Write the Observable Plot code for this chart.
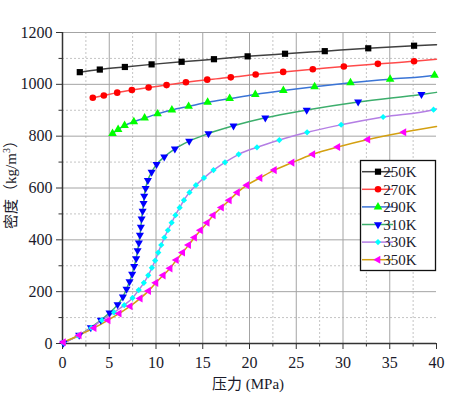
<!DOCTYPE html>
<html><head><meta charset="utf-8">
<script src="https://cdn.jsdelivr.net/npm/d3@7"></script>
<script src="https://cdn.jsdelivr.net/npm/@observablehq/plot@0.6"></script>
<style>body{margin:0;background:#fff}#chart{width:459px;height:399px}</style>
</head><body><div id="chart"></div>
<script>
// ---- data ----
const temps = ["250K", "270K", "290K", "310K", "330K", "350K"];

const p250 = [1.85, 3.99, 6.67, 9.53, 12.74, 16.2, 19.8, 23.8, 28.05, 32.7, 37.6];
const d250 = [1047, 1057, 1067, 1077, 1087, 1097, 1108, 1118, 1128, 1139, 1149];

const p270 = [3.24, 4.42, 5.85, 7.42, 9.21, 11.13, 13.2, 15.48, 18.0, 20.66, 23.6, 26.77, 30.09, 33.73, 37.6];
const d270 = [948, 957, 968, 978, 988, 997, 1008, 1018, 1027, 1038, 1048, 1058, 1069, 1079, 1089];

const p290 = [5.35, 5.95, 6.64, 7.63, 8.78, 10.17, 11.7, 13.49, 15.52, 17.88, 20.62, 23.62, 26.96, 30.8, 35.04, 39.79];
const d290 = [810, 826, 841, 856, 870, 886, 901, 915, 931, 945, 961, 976, 991, 1006, 1020, 1035];

const p310 = [0.1, 1.78, 3.03, 4.1, 5.03, 5.89, 6.46, 6.85, 7.17, 7.45, 7.67, 7.88, 8.03, 8.17, 8.28, 8.38, 8.46, 8.57, 8.67, 8.74, 8.89, 9.13, 9.53, 10.06, 10.88, 12.02, 13.55, 15.61, 18.29, 21.69, 26.12, 31.62, 38.39];
const d310 = [2, 32, 61, 90, 118, 150, 180, 210, 239, 268, 298, 328, 359, 388, 418, 449, 481, 511, 541, 569, 599, 630, 661, 691, 720, 751, 781, 810, 840, 871, 901, 932, 961];

const p330 = [0.1, 1.69, 3.08, 4.21, 5.52, 6.6, 7.49, 8.15, 8.7, 9.17, 9.56, 9.91, 10.24, 10.56, 10.9, 11.27, 11.67, 12.08, 12.53, 12.99, 13.58, 14.27, 15.13, 16.15, 17.38, 18.84, 20.8, 23.19, 26.16, 29.8, 34.29, 39.68];
const d330 = [3, 30, 60, 90, 120, 148, 176, 206, 234, 263, 292, 320, 351, 380, 409, 437, 466, 495, 524, 553, 583, 611, 639, 669, 699, 730, 757, 785, 815, 844, 874, 902];

const p350 = [0.1, 1.78, 3.38, 4.88, 6.06, 7.24, 8.31, 9.21, 9.99, 10.77, 11.51, 12.18, 12.85, 13.49, 14.12, 14.76, 15.47, 16.12, 17.0, 17.84, 18.71, 19.73, 21.12, 22.66, 24.55, 26.77, 29.44, 32.66, 36.51];
const d350 = [5, 32, 60, 90, 116, 144, 174, 203, 234, 263, 290, 322, 351, 380, 409, 437, 466, 495, 525, 553, 583, 611, 639, 669, 698, 730, 758, 787, 815];

// where each fitted curve ends (right edge of the plot)
const endP = 40;
const endRho = [1153, 1097, 1037, 969, 905, 837];

const lineColors = ["#404040", "#ff4a4a", "#3a74d6", "#3cae6c", "#b47ee4", "#d4a010"];
const markerColors = ["#000000", "#ff0000", "#00ff00", "#0000ff", "#00ffff", "#ff00ff"];

const xMajor = [0, 5, 10, 15, 20, 25, 30, 35, 40];
const xMinor = [2.5, 7.5, 12.5, 17.5, 22.5, 27.5, 32.5, 37.5];
const yMajor = [0, 200, 400, 600, 800, 1000, 1200];
const yMinor = [100, 300, 500, 700, 900, 1100];

const xLabelCJK = "压力";
const xLabelLatin = " (MPa)";
const yLabelCJK = "密度（";
const yLabelUnit = "kg/m";
const yLabelSup = "3";
const yLabelEnd = "）";

// ---- build ----
const pressures = [p250, p270, p290, p310, p330, p350];
const densities = [d250, d270, d290, d310, d330, d350];
const dotData = pressures.map((ps, i) => ps.map((p, j) => ({T: temps[i], p, rho: densities[i][j]})));
const lineData = dotData.map((pts, i) => pts.concat(pts[pts.length - 1].p < endP ? [{T: temps[i], p: endP, rho: endRho[i]}] : []));

const s3 = Math.sqrt(3);
const triDown = {draw(ctx, size) { const y = -Math.sqrt(size / (s3 * 3)); ctx.moveTo(0, -y * 2); ctx.lineTo(-s3 * y, y); ctx.lineTo(s3 * y, y); ctx.closePath(); }};
const triLeft = {draw(ctx, size) { const y = -Math.sqrt(size / (s3 * 3)); ctx.moveTo(y * 2, 0); ctx.lineTo(-y, -s3 * y); ctx.lineTo(-y, s3 * y); ctx.closePath(); }};
const symbols = ["square", "circle", "triangle", triDown, "diamond2", triLeft];
const d3Symbols = [d3.symbolSquare, d3.symbolCircle, d3.symbolTriangle, triDown, d3.symbolDiamond2, triLeft];
const radii = [3.5, 3.3, 3.2, 3.0, 2.8, 3.0];

const serif = '"Liberation Serif", "Times New Roman", "DejaVu Serif", serif';
const cjk = '"Noto Sans CJK SC", sans-serif';
const fmt = d => String(d);

const marks = [
  Plot.ruleX(xMinor, {stroke: "#c4c4c4", strokeDasharray: "2,2"}),
  Plot.ruleY(yMinor, {stroke: "#c4c4c4", strokeDasharray: "2,2"}),
  Plot.ruleX(xMajor.filter(v => v > 0 && v < 40), {stroke: "#a4a4a4"}),
  Plot.ruleY(yMajor.filter(v => v > 0), {stroke: "#a4a4a4"}),
  Plot.axisX(xMajor, {tickSize: 6, tickPadding: 7, label: null, stroke: "#333", tickFormat: fmt, fontFamily: serif}),
  Plot.axisX(xMinor, {tickSize: 3.5, tickFormat: () => "", label: null, stroke: "#333"}),
  Plot.axisY(yMajor, {tickSize: 6, tickPadding: 4, label: null, stroke: "#333", tickFormat: fmt, fontFamily: serif}),
  Plot.axisY(yMinor, {tickSize: 3.5, tickFormat: () => "", label: null, stroke: "#333"}),
  Plot.ruleX([0], {stroke: "#333", strokeWidth: 1.5}),
  Plot.ruleY([0], {stroke: "#333", strokeWidth: 1.5}),
  ...lineData.map((d, i) => Plot.line(d, {x: "p", y: "rho", stroke: lineColors[i], strokeWidth: 1.5, curve: "monotone-x"})),
  ...dotData.map((d, i) => Plot.dot(d, {x: "p", y: "rho", symbol: symbols[i], fill: markerColors[i], r: radii[i], stroke: "none"}))
];

const chart = Plot.plot({
  width: 459, height: 399,
  marginLeft: 62, marginRight: 23, marginTop: 32, marginBottom: 56,
  style: {fontFamily: serif, fontSize: "16px", color: "#1a1a2a", background: "#fff", overflow: "visible"},
  x: {domain: [0, 40]},
  y: {domain: [0, 1200]},
  marks
});
document.getElementById("chart").appendChild(chart);

const svg = d3.select(chart);
const xl = svg.append("text").attr("x", 248).attr("y", 389).attr("text-anchor", "middle")
  .attr("font-size", 15).attr("fill", "#1a1a2a");
xl.append("tspan").attr("font-family", cjk).text(xLabelCJK);
xl.append("tspan").attr("font-family", serif).text(xLabelLatin);

const yl = svg.append("text").attr("transform", "translate(16,181) rotate(-90)").attr("text-anchor", "middle")
  .attr("font-size", 15).attr("fill", "#1a1a2a");
yl.append("tspan").attr("font-family", cjk).text(yLabelCJK);
yl.append("tspan").attr("font-family", serif).text(yLabelUnit);
yl.append("tspan").attr("font-family", serif).attr("font-size", 10).attr("dy", -6).text(yLabelSup);
yl.append("tspan").attr("font-family", cjk).attr("dy", 6).text(yLabelEnd);

// legend
const lg = svg.append("g");
lg.append("rect").attr("x", 360.5).attr("y", 160.5).attr("width", 75).attr("height", 110)
  .attr("fill", "#fff").attr("stroke", "#111").attr("stroke-width", 1.3);
temps.forEach((t, i) => {
  const cy = 171.7 + i * 17.6;
  lg.append("line").attr("x1", 362).attr("x2", 393).attr("y1", cy).attr("y2", cy)
    .attr("stroke", lineColors[i]).attr("stroke-width", 1.5);
  lg.append("path").attr("transform", `translate(378,${cy})`)
    .attr("d", d3.symbol().type(d3Symbols[i]).size(Math.PI * radii[i] * radii[i])())
    .attr("fill", markerColors[i]);
  lg.append("text").attr("x", 400).attr("y", cy).attr("dy", "0.35em")
    .attr("font-family", serif).attr("font-size", 15).attr("fill", "#1a1a2a").text(t);
});
</script></body></html>
